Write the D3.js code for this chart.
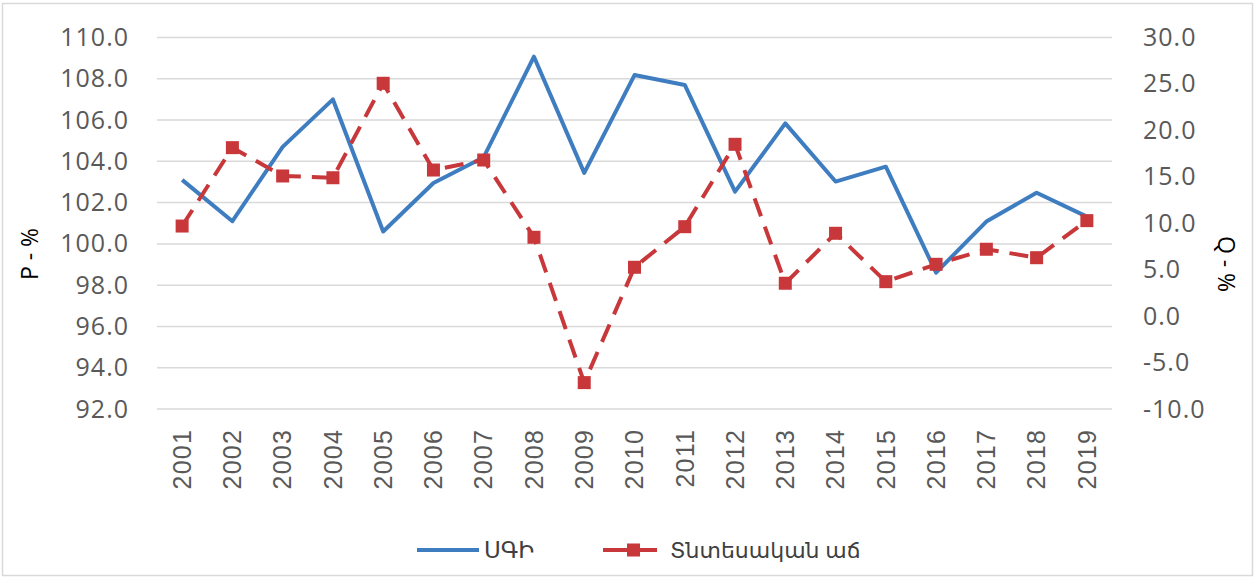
<!DOCTYPE html>
<html>
<head>
<meta charset="utf-8">
<script src="https://cdn.jsdelivr.net/npm/d3@7"></script>
<style>
  body { margin: 0; background: #fff; }
  svg { font-family: "Open Sans", "DejaVu Sans", sans-serif; }
</style>
</head>
<body>
<div id="chart"></div>
<script>
// years on the x axis
var years = ["2001","2002","2003","2004","2005","2006","2007","2008","2009","2010",
             "2011","2012","2013","2014","2015","2016","2017","2018","2019"];
// ՍԳԻ, left axis (P - %)
var cpi = [103.1, 101.1, 104.7, 107.0, 100.6, 102.95, 104.2, 109.07, 103.44, 108.18,
           107.7, 102.53, 105.84, 103.02, 103.74, 98.61, 101.08, 102.48, 101.32];
// Տնտեսական աճ, right axis (Q - %)
var growth = [9.7, 18.14, 15.09, 14.9, 25.07, 15.73, 16.81, 8.49, -7.16, 5.26,
              9.63, 18.5, 3.54, 8.92, 3.71, 5.58, 7.2, 6.29, 10.28];
var leftTicks = [92, 94, 96, 98, 100, 102, 104, 106, 108, 110];
var rightTicks = [-10, -5, 0, 5, 10, 15, 20, 25, 30];

var W = 1255, H = 578;
var blue = "#3F7DC1", red = "#C8373A";
var plot = {left: 157, right: 1112, top: 37.5, bottom: 409};

// plain hyphen for negatives, like the original
var fmt = d3.formatLocale({decimal: ".", thousands: ",", grouping: [3], currency: ["", ""], minus: "-"}).format(".1f");

var svg = d3.select("#chart").append("svg")
  .attr("width", W).attr("height", H);

// frame
svg.append("rect")
  .attr("x", 2.5).attr("y", 3.5).attr("width", W - 5).attr("height", H - 6)
  .attr("fill", "#fff").attr("stroke", "#d9d9d9").attr("stroke-width", 1.5);

var x = d3.scaleBand().domain(years).range([plot.left, plot.right]);
var yL = d3.scaleLinear().domain([92, 110]).range([plot.bottom, plot.top]);
var yR = d3.scaleLinear().domain([-10, 30]).range([plot.bottom, plot.top]);
var cx = function(d, i){ return x(years[i]) + x.bandwidth()/2; };

// gridlines
svg.append("g").selectAll("line")
  .data(leftTicks).enter().append("line")
  .attr("x1", plot.left).attr("x2", plot.right)
  .attr("y1", function(d){ return yL(d); })
  .attr("y2", function(d){ return yL(d); })
  .attr("stroke", "#d9d9d9").attr("stroke-width", 1.5);

// left axis
var axL = svg.append("g")
  .attr("transform", "translate(" + (plot.left - 28) + ",0)")
  .call(d3.axisLeft(yL).tickValues(leftTicks).tickFormat(fmt).tickSize(0).tickPadding(0));
axL.select(".domain").remove();
axL.selectAll("text").attr("font-size", 25).attr("fill", "#595959")
  .attr("letter-spacing", 1)
  .attr("font-family", "\"Open Sans\", sans-serif");

// right axis
var axR = svg.append("g")
  .attr("transform", "translate(" + (plot.right + 31) + ",0)")
  .call(d3.axisRight(yR).tickValues(rightTicks).tickFormat(fmt).tickSize(0).tickPadding(0));
axR.select(".domain").remove();
axR.selectAll("text").attr("font-size", 25).attr("fill", "#595959")
  .attr("letter-spacing", 1)
  .attr("font-family", "\"Open Sans\", sans-serif");

// x axis labels, rotated
var axX = svg.append("g")
  .attr("transform", "translate(0," + (plot.bottom + 20) + ")")
  .call(d3.axisBottom(x).tickSize(0).tickPadding(0));
axX.select(".domain").remove();
axX.selectAll("text")
  .attr("font-size", 25).attr("fill", "#595959")
  .attr("letter-spacing", 1.2)
  .attr("text-anchor", "end")
  .attr("transform", "rotate(-90)")
  .attr("x", 0).attr("y", 0).attr("dy", "0.35em");

// axis titles
svg.append("text")
  .attr("transform", "translate(38,254) rotate(-90)")
  .attr("text-anchor", "middle").attr("font-size", 23).attr("fill", "#000")
  .text("P - %");
svg.append("text")
  .attr("transform", "translate(1218,264) rotate(90)")
  .attr("text-anchor", "middle").attr("font-size", 23).attr("fill", "#000")
  .text("Q - %");

// blue line
svg.append("path")
  .datum(cpi)
  .attr("fill", "none").attr("stroke", blue).attr("stroke-width", 4)
  .attr("stroke-linejoin", "round")
  .attr("d", d3.line().x(cx).y(function(d){ return yL(d); }));

// red dashed line + square markers
svg.append("path")
  .datum(growth)
  .attr("fill", "none").attr("stroke", red).attr("stroke-width", 4)
  .attr("stroke-dasharray", "19,11")
  .attr("d", d3.line().x(cx).y(function(d){ return yR(d); }));
svg.append("g").selectAll("rect")
  .data(growth).enter().append("rect")
  .attr("x", function(d, i){ return cx(d, i) - 6.5; })
  .attr("y", function(d){ return yR(d) - 6.5; })
  .attr("width", 13).attr("height", 13)
  .attr("fill", red);

// legend
var lg = svg.append("g").attr("transform", "translate(0,550)");
lg.append("line").attr("x1", 417).attr("x2", 479).attr("y1", 0).attr("y2", 0)
  .attr("stroke", blue).attr("stroke-width", 4);
lg.append("text").attr("x", 484).attr("y", 0).attr("dy", "0.35em")
  .attr("font-size", 23).attr("fill", "#404040").text("ՍԳԻ");
lg.append("line").attr("x1", 603).attr("x2", 666).attr("y1", 0).attr("y2", 0)
  .attr("stroke", red).attr("stroke-width", 4).attr("stroke-dasharray", "26,9,19");
lg.append("rect").attr("x", 627).attr("y", -6.5).attr("width", 13).attr("height", 13)
  .attr("fill", red);
lg.append("text").attr("x", 670).attr("y", 0).attr("dy", "0.35em")
  .attr("font-size", 22).attr("fill", "#404040").text("Տնտեսական աճ");
</script>
</body>
</html>
